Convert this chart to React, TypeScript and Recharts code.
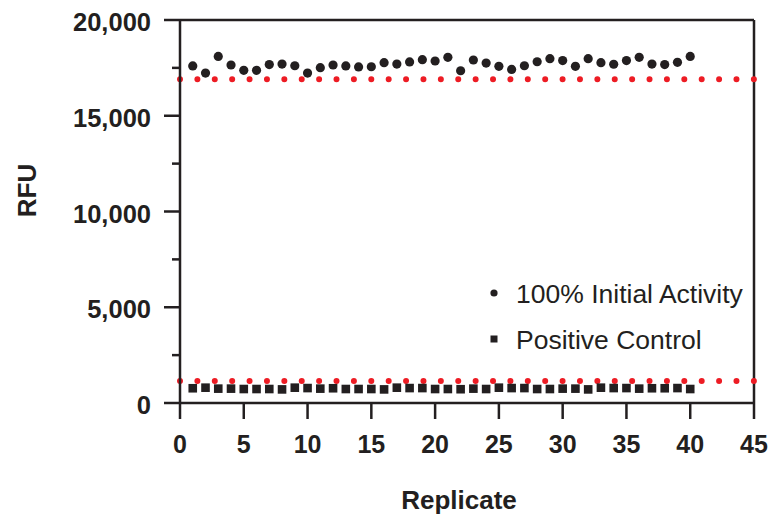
import React from 'react';
import {
  ScatterChart,
  Scatter,
  XAxis,
  YAxis,
  ReferenceLine,
  Legend,
  Label,
} from 'recharts';

const INK = '#231f20';
const RED = '#ed1c24';
const FONT = '"Liberation Sans", Arial, Helvetica, sans-serif';

const replicates = [
  1, 2, 3, 4, 5, 6, 7, 8, 9, 10, 11, 12, 13, 14, 15, 16, 17, 18, 19, 20,
  21, 22, 23, 24, 25, 26, 27, 28, 29, 30, 31, 32, 33, 34, 35, 36, 37, 38, 39, 40,
];

const initialActivity = [
  17600, 17230, 18100, 17650, 17370, 17370, 17670, 17700, 17610, 17230,
  17510, 17650, 17600, 17550, 17560, 17770, 17700, 17810, 17930, 17860,
  18050, 17350, 17910, 17750, 17580, 17420, 17610, 17820, 17980, 17880,
  17580, 17980, 17770, 17690, 17880, 18050, 17700, 17670, 17790, 18100,
];

const positiveControl = [
  770, 800, 750, 750, 730, 730, 730, 710, 800, 780,
  750, 770, 730, 730, 730, 710, 800, 780, 780, 730,
  730, 720, 750, 730, 800, 780, 780, 730, 730, 750,
  750, 710, 800, 780, 780, 750, 770, 770, 780, 730,
];

// threshold levels shown as red dotted lines
const upperLimit = 16900;
const lowerLimit = 1150;

const xTicks = [0, 5, 10, 15, 20, 25, 30, 35, 40, 45];
const yTicks = [0, 2500, 5000, 7500, 10000, 12500, 15000, 17500, 20000];

const activityData = replicates.map((r, i) => ({ replicate: r, rfu: initialActivity[i] }));
const controlData = replicates.map((r, i) => ({ replicate: r, rfu: positiveControl[i] }));

const CircleShape = (props: any) => (
  <circle cx={props.cx} cy={props.cy} r={4.6} fill={INK} />
);

const SquareShape = (props: any) => (
  <rect x={props.cx - 4.3} y={props.cy - 4.3} width={8.6} height={8.6} fill={INK} />
);

const YTick = (props: any) => {
  const { x, y, payload } = props;
  const major = payload.value % 5000 === 0;
  return (
    <g>
      <line x1={x - (major ? 16 : 8)} x2={x} y1={y} y2={y} stroke={INK} strokeWidth={2.5} />
      {major && (
        <text
          x={x - 29}
          y={y + 2}
          dy="0.36em"
          textAnchor="end"
          fontFamily={FONT}
          fontWeight="bold"
          fontSize={25.5}
          fill={INK}
        >
          {payload.value.toLocaleString('en-US')}
        </text>
      )}
    </g>
  );
};

const LegendBox = (props: any) => {
  const items = props.payload || [];
  return (
    <svg width={280} height={80}>
      {items.map((item: any, i: number) => {
        const cy = 15 + i * 46;
        return (
          <g key={item.value}>
            {i === 0 ? (
              <circle cx={8} cy={cy} r={3.6} fill={INK} />
            ) : (
              <rect x={4.5} y={cy - 3.5} width={7} height={7} fill={INK} />
            )}
            <text x={30} y={cy} dy="0.36em" fontFamily={FONT} fontSize={26.5} fill={INK}>
              {item.value}
            </text>
          </g>
        );
      })}
    </svg>
  );
};

const App = () => {
  return (
    <div style={{ position: 'absolute', left: 0, top: 0, background: '#fff' }}>
      <ScatterChart width={774} height={516} margin={{ top: 20, right: 20, bottom: 0, left: 0 }}>
        <XAxis
          type="number"
          dataKey="replicate"
          domain={[0, 45]}
          ticks={xTicks}
          interval={0}
          height={113}
          tickSize={16}
          tickMargin={16}
          axisLine={{ stroke: INK, strokeWidth: 2.5 }}
          tickLine={{ stroke: INK, strokeWidth: 2.5 }}
          tick={{ fill: INK, fontFamily: FONT, fontWeight: 'bold', fontSize: 25 }}
        >
          <Label
            content={(p: any) => (
              <text
                x={p.viewBox.x + p.viewBox.width / 2 - 8}
                y={p.viewBox.y + 106}
                textAnchor="middle"
                fontFamily={FONT}
                fontWeight="bold"
                fontSize={26}
                fill={INK}
              >
                Replicate
              </text>
            )}
          />
        </XAxis>
        <YAxis
          type="number"
          dataKey="rfu"
          domain={[0, 20000]}
          ticks={yTicks}
          interval={0}
          width={180}
          tickSize={0}
          tickMargin={0}
          tickLine={false}
          axisLine={{ stroke: INK, strokeWidth: 2.5 }}
          tick={<YTick />}
        >
          <Label
            content={(p: any) => (
              <text
                x={0}
                y={0}
                transform={`translate(36, ${p.viewBox.y + p.viewBox.height / 2 - 21}) rotate(-90)`}
                textAnchor="middle"
                fontFamily={FONT}
                fontWeight="bold"
                fontSize={26}
                fill={INK}
              >
                RFU
              </text>
            )}
          />
        </YAxis>
        <ReferenceLine y={20000} stroke={INK} strokeWidth={2.5} />
        <ReferenceLine x={45} stroke={INK} strokeWidth={2.5} />
        <ReferenceLine
          y={upperLimit}
          stroke={RED}
          strokeWidth={6}
          strokeLinecap="round"
          strokeDasharray="0 17.39"
        />
        <ReferenceLine
          y={lowerLimit}
          stroke={RED}
          strokeWidth={6}
          strokeLinecap="round"
          strokeDasharray="0 17.39"
        />
        <Scatter
          name="100% Initial Activity"
          data={activityData}
          shape={CircleShape}
          isAnimationActive={false}
        />
        <Scatter
          name="Positive Control"
          data={controlData}
          shape={SquareShape}
          isAnimationActive={false}
        />
        <Legend
          layout="vertical"
          align="center"
          verticalAlign="middle"
          content={LegendBox}
          wrapperStyle={{ left: 486, top: 278, width: 280, height: 80 }}
        />
      </ScatterChart>
    </div>
  );
};

export default App;
